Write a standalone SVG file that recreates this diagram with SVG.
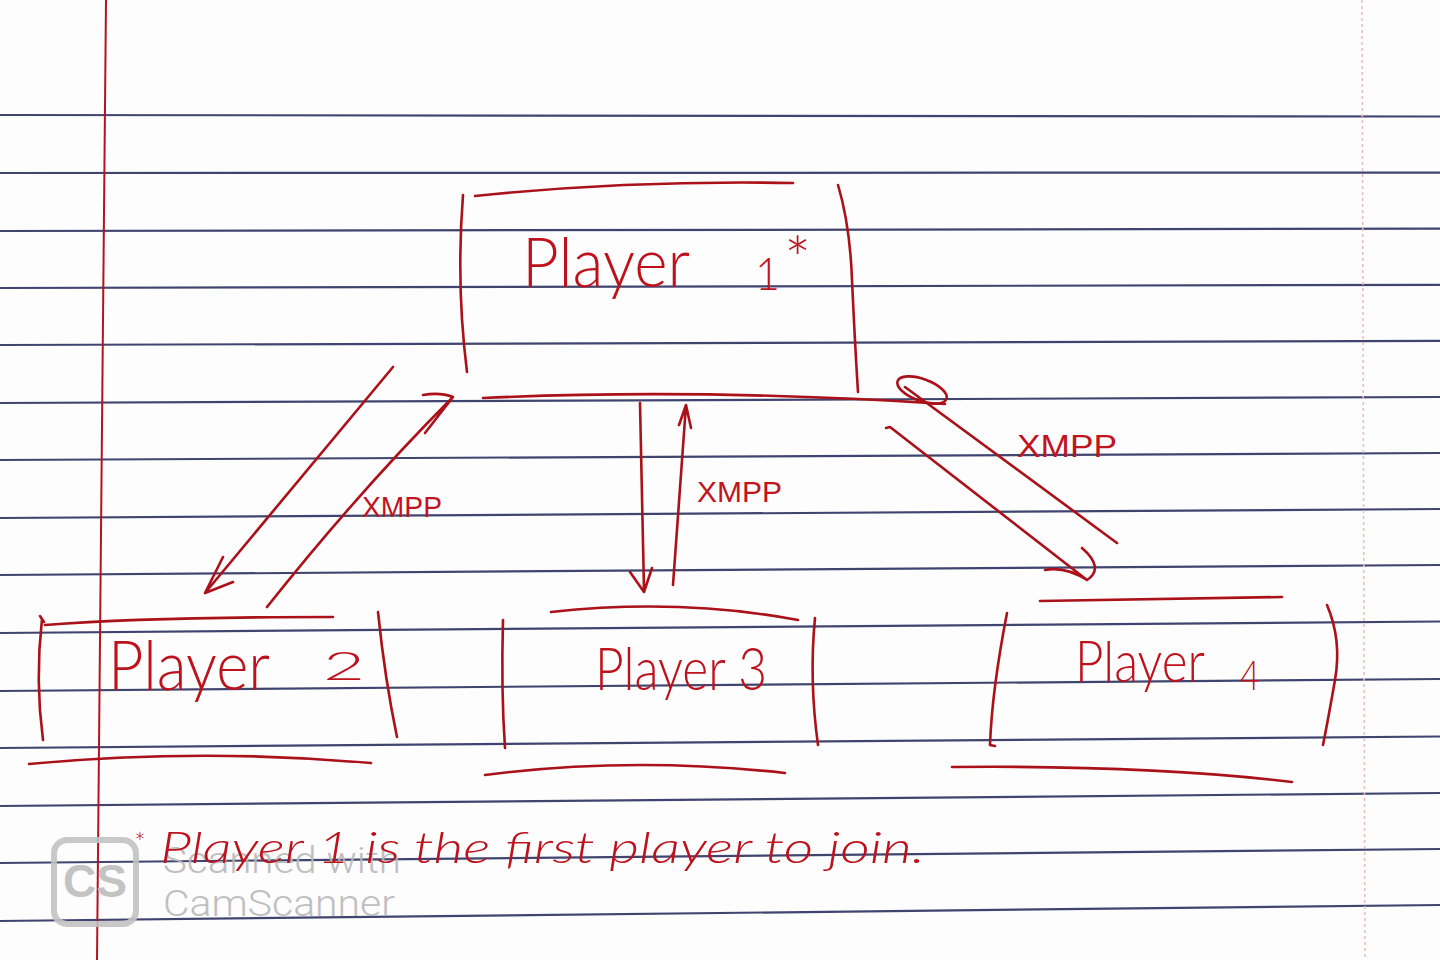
<svg xmlns="http://www.w3.org/2000/svg" width="1440" height="960" viewBox="0 0 1440 960">
  <style>
    .rule { stroke: #2b3160; stroke-width: 2.2; fill: none; opacity: 0.9; }
    .ink { stroke: #aa1119; stroke-width: 2.6; fill: none; stroke-linecap: round; stroke-linejoin: round; }
    .hand { fill: #bd121c; font-family: Lato, "Open Sans", "Liberation Sans", sans-serif; font-weight: 300; }
    .lbl { fill: #c0141e; font-family: "Liberation Sans", Arial, sans-serif; font-weight: 400; }
    .wm { fill: #b9b9b9; font-family: Roboto, "Liberation Sans", sans-serif; font-weight: 300; }
  </style>
  <rect x="0" y="0" width="1440" height="960" fill="#fdfdfd"/>
  <g id="paper">
    <line class="rule" x1="0" y1="115" x2="1440" y2="116.5"/>
    <line class="rule" x1="0" y1="173" x2="1440" y2="172.6"/>
    <line class="rule" x1="0" y1="231" x2="1440" y2="228.7"/>
    <line class="rule" x1="0" y1="288" x2="1440" y2="284.8"/>
    <line class="rule" x1="0" y1="345" x2="1440" y2="340.9"/>
    <line class="rule" x1="0" y1="403" x2="1440" y2="397"/>
    <line class="rule" x1="0" y1="460" x2="1440" y2="453"/>
    <line class="rule" x1="0" y1="518" x2="1440" y2="509"/>
    <line class="rule" x1="0" y1="575" x2="1440" y2="565"/>
    <line class="rule" x1="0" y1="633" x2="1440" y2="621.5"/>
    <line class="rule" x1="0" y1="691" x2="1440" y2="679"/>
    <line class="rule" x1="0" y1="748" x2="1440" y2="736.5"/>
    <line class="rule" x1="0" y1="806" x2="1440" y2="793"/>
    <line class="rule" x1="0" y1="863" x2="1440" y2="849"/>
    <line class="rule" x1="0" y1="921" x2="1440" y2="905"/>
    <line x1="106" y1="0" x2="97" y2="960" stroke="#b3141f" stroke-width="2"/>
    <line x1="1362" y1="0" x2="1365" y2="960" stroke="#e8bcbc" stroke-width="1.5" stroke-dasharray="3 3"/>
  </g>
  <g id="watermark" opacity="0.9">
    <rect x="54" y="840" width="82" height="84" rx="13" fill="none" stroke="#c3c3c3" stroke-width="6"/>
    <text x="95" y="897" text-anchor="middle" font-family="'Liberation Sans', Arial, sans-serif" font-weight="700" font-size="46" fill="#bdbdbd" textLength="64" lengthAdjust="spacingAndGlyphs">CS</text>
    <text class="wm" x="163" y="873" font-size="37" textLength="238" lengthAdjust="spacingAndGlyphs">Scanned with</text>
    <text class="wm" x="163" y="916" font-size="37" textLength="232" lengthAdjust="spacingAndGlyphs">CamScanner</text>
  </g>
  <g id="player1">
    <path class="ink" d="M475,196 Q630,180 793,183"/>
    <path class="ink" d="M463,195 Q456,285 467,372"/>
    <path class="ink" d="M838,185 Q850,225 852,280 Q855,345 858,392"/>
    <path class="ink" d="M483,398 Q700,388 945,404"/>
    <text class="hand" x="522" y="287" font-size="68" textLength="168" lengthAdjust="spacingAndGlyphs">Player</text>
    <text class="hand" x="755" y="290" font-size="46" textLength="25" lengthAdjust="spacingAndGlyphs">1</text>
    <text class="hand" x="784" y="282" font-size="64" font-weight="700" fill="#d0101a">*</text>
  </g>
  <g id="player2">
    <path class="ink" d="M40,616 L44,622 M42,619 Q35,680 43,740"/>
    <path class="ink" d="M45,625 Q150,617 333,617"/>
    <path class="ink" d="M378,612 Q385,680 397,737"/>
    <path class="ink" d="M29,764 Q200,748 371,763"/>
    <text class="hand" x="108" y="690" font-size="68" textLength="162" lengthAdjust="spacingAndGlyphs">Player</text>
    <text class="hand" x="323" y="680" font-size="40" textLength="42" lengthAdjust="spacingAndGlyphs">2</text>
  </g>
  <g id="player3">
    <path class="ink" d="M551,612 Q680,598 798,620"/>
    <path class="ink" d="M503,620 Q501,690 505,748"/>
    <path class="ink" d="M815,618 Q809,680 818,745"/>
    <path class="ink" d="M485,775 Q630,756 785,773"/>
    <text class="hand" x="595" y="690" font-size="60" textLength="172" lengthAdjust="spacingAndGlyphs">Player 3</text>
  </g>
  <g id="player4">
    <path class="ink" d="M1040,601 L1282,597"/>
    <path class="ink" d="M1007,613 Q992,690 990,745 L995,746"/>
    <path class="ink" d="M1327,605 Q1342,640 1335,680 Q1328,720 1323,745"/>
    <path class="ink" d="M952,767 Q1150,765 1292,782"/>
    <text class="hand" x="1075" y="682" font-size="58" textLength="130" lengthAdjust="spacingAndGlyphs">Player</text>
    <text class="hand" x="1240" y="690" font-size="42" textLength="20" lengthAdjust="spacingAndGlyphs">4</text>
  </g>
  <g id="connectors">
    <path class="ink" d="M393,367 L205,593 M223,557 L205,593 L233,582"/>
    <path class="ink" d="M267,607 Q360,490 453,397 M423,395 Q440,392 453,397 L425,433"/>
    <text class="lbl" x="362" y="517" font-size="30" textLength="80" lengthAdjust="spacingAndGlyphs">XMPP</text>
    <path class="ink" d="M640,403 L644,590 M630,572 L644,592 L652,568"/>
    <path class="ink" d="M673,585 L686,405 M679,425 L686,405 L691,428"/>
    <text class="lbl" x="697" y="502" font-size="30" textLength="85" lengthAdjust="spacingAndGlyphs">XMPP</text>
    <ellipse class="ink" cx="922" cy="390" rx="26" ry="11" transform="rotate(20 922 390)"/>
    <path class="ink" d="M905,387 L1117,543"/>
    <path class="ink" d="M886,428 L890,427 L1087,580 M1045,570 Q1065,566 1087,580 M1082,548 Q1105,568 1087,580"/>
    <text class="lbl" x="1017" y="457" font-size="32" textLength="100" lengthAdjust="spacingAndGlyphs">XMPP</text>
  </g>
  <g id="footnote">
    <text class="hand" x="134" y="852" font-size="28">*</text>
    <text class="hand" x="160" y="863" font-size="44" font-style="italic" textLength="765" lengthAdjust="spacingAndGlyphs">Player 1 is the first player to join.</text>
  </g>
</svg>
